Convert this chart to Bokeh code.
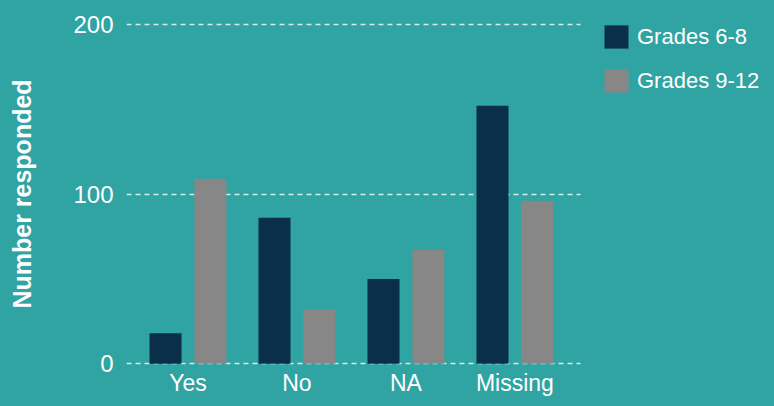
from bokeh.plotting import figure
from bokeh.models import ColumnDataSource, Range1d, FixedTicker, Legend, LegendItem
from bokeh.embed import file_html
from bokeh.resources import INLINE

categories = ["Yes", "No", "NA", "Missing"]
grades_6_8 = [18, 86, 50, 152]
grades_9_12 = [109, 32, 67, 96]
y_ticks = [0, 100, 200]
series_names = ["Grades 6-8", "Grades 9-12"]

BG = "#30a3a3"
NAVY = "#0a2f48"
GRAY = "#878787"
FONT = "Liberation Sans"

idx = list(range(len(categories)))
src = ColumnDataSource(dict(
    x1=[i - 0.206 for i in idx],
    x2=[i + 0.206 for i in idx],
    a=grades_6_8,
    b=grades_9_12,
))

p = figure(width=766, height=398, output_backend="svg", toolbar_location=None,
           x_range=Range1d(-0.564, 5.308), y_range=Range1d(-1, 201),
           min_border_left=126, min_border_top=22, min_border_bottom=33, min_border_right=0)
p.background_fill_color = BG
p.border_fill_color = BG
p.outline_line_color = None

r1 = p.vbar(x="x1", top="a", width=0.2936, source=src, fill_color=NAVY, line_color=None)
r2 = p.vbar(x="x2", top="b", width=0.2936, source=src, fill_color=GRAY, line_color=None)

p.xaxis.ticker = FixedTicker(ticks=idx)
p.xaxis.major_label_overrides = {i: c for i, c in zip(idx, categories)}
p.yaxis.ticker = FixedTicker(ticks=y_ticks)

for ax in (p.xaxis, p.yaxis):
    ax.axis_line_color = None
    ax.major_tick_line_color = None
    ax.minor_tick_line_color = None
    ax.major_tick_out = 0
    ax.major_tick_in = 0
    ax.major_label_text_font = FONT
    ax.major_label_text_font_size = "24px"
    ax.major_label_text_color = "white"

p.xaxis.major_label_text_font_size = "23px"
p.xaxis.major_label_standoff = 4
p.yaxis.major_label_standoff = 13
p.yaxis.axis_label = "Number responded"
p.yaxis.axis_label_text_font = FONT
p.yaxis.axis_label_text_font_size = "25px"
p.yaxis.axis_label_text_font_style = "bold"
p.yaxis.axis_label_text_color = "white"
p.yaxis.axis_label_standoff = 34

p.xgrid.grid_line_color = None
p.ygrid.grid_line_color = "#d6eded"
p.ygrid.grid_line_width = 1.6
p.ygrid.grid_line_dash = "5 4"
p.ygrid.cross_bounds = (-0.564, 3.601)

legend = Legend(items=[LegendItem(label=series_names[0], renderers=[r1]),
                       LegendItem(label=series_names[1], renderers=[r2])],
                location=(475, 270), margin=0, padding=0, spacing=15,
                glyph_width=30, glyph_height=29, label_standoff=6,
                label_text_font=FONT, label_text_font_size="22px", label_text_color="white",
                background_fill_alpha=0, border_line_color=None)
p.add_layout(legend, "center")

html = file_html(p, INLINE)
html = html.replace("<head>", "<head><style>html, body { background: %s; }</style>" % BG, 1)
open("out.html", "w").write(html)
